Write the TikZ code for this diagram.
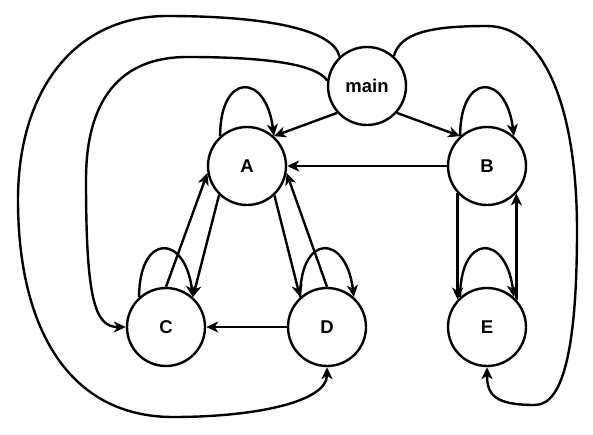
\documentclass[tikz,border=0pt]{standalone}
\usepackage{fontspec}
\setmainfont{Liberation Sans}
\usetikzlibrary{arrows.meta}

\begin{document}
\begin{tikzpicture}[
    x=1pt, y=-1pt,
    state/.style={circle, draw, line width=2.4pt, minimum size=78pt, inner sep=0pt, font=\bfseries\fontsize{18.5}{20}\selectfont},
    arrow/.style={-{Stealth[length=12pt,width=11pt,inset=3.5pt]}, line width=2.4pt}
]
\useasboundingbox (0,0) rectangle (593,434);
\node[state] (main) at (367,86) {main};
\node[state] (A) at (247,166) {A};
\node[state] (B) at (487,166) {B};
\node[state] (C) at (166,327) {C};
\node[state] (D) at (327,327) {D};
\node[state] (E) at (487,327) {E};

\draw[arrow] (main.222) -- (A.48);
\draw[arrow] (main.318) -- (B.132);
\draw[arrow] (B) -- (A);
\draw[arrow] (A.226) -- (C.48);
\draw[arrow] (C.90) -- (A.190);
\draw[arrow] (A.313) -- (D.132);
\draw[arrow] (D.90) -- (A.350);
\draw[arrow] (D) -- (C);
\draw[arrow] (B.223) -- (E.137);
\draw[arrow] (E.43) -- (B.317);
\foreach \n in {A,B,C,D,E}
    \draw[arrow] (\n.132) .. controls +(0,-64) and +(-8,-64) .. (\n.48);

\draw[arrow] (main.133) .. controls (333,28) and (260,16) .. (167,16)
    .. controls (75,16) and (18,90) .. (18,200)
    .. controls (18,330) and (70,417) .. (173,417)
    .. controls (255,417) and (327,402) .. (D.south);
\draw[arrow] (main.172) .. controls (315,63) and (260,57) .. (187,57)
    .. controls (120,57) and (86,100) .. (86,180)
    .. controls (86,300) and (95,327) .. (C.west);
\draw[arrow] (main.48) .. controls (400,33) and (430,26) .. (487,26)
    .. controls (545,26) and (577,110) .. (577,230)
    .. controls (577,340) and (565,405) .. (535,405)
    .. controls (495,405) and (487,395) .. (E.south);
\end{tikzpicture}
\end{document}
